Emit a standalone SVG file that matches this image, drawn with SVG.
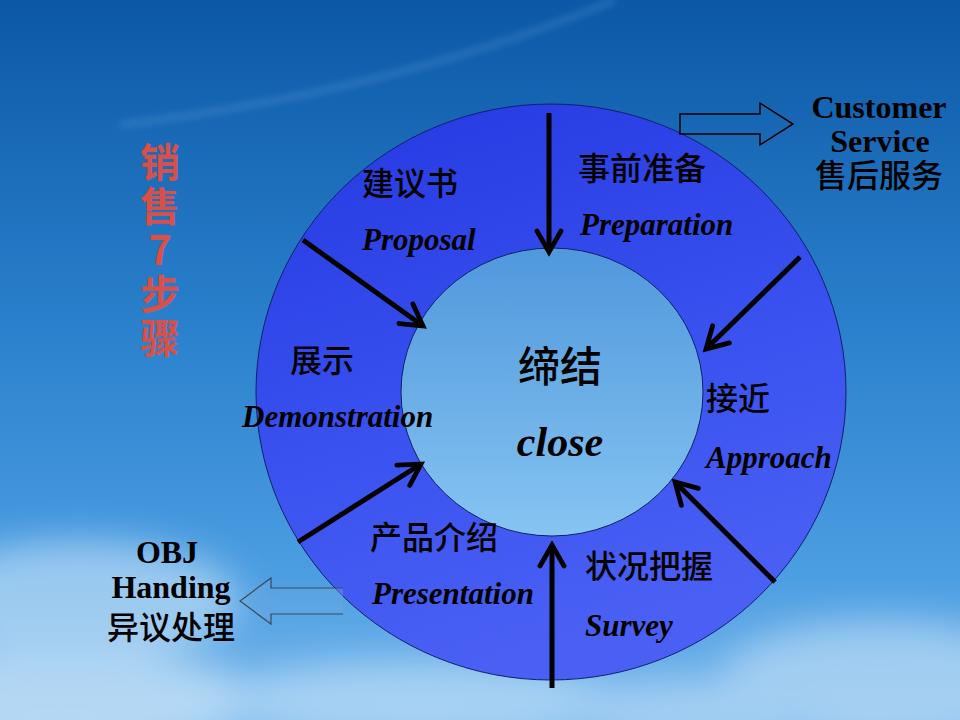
<svg xmlns="http://www.w3.org/2000/svg" width="960" height="720" viewBox="0 0 960 720">
<defs>
<linearGradient id="bg" x1="0" y1="0" x2="0" y2="1">
<stop offset="0" stop-color="#0c58a6"/>
<stop offset="0.45" stop-color="#2a80cc"/>
<stop offset="0.8" stop-color="#4c9ee2"/>
<stop offset="1" stop-color="#7ab8ec"/>
</linearGradient>
<linearGradient id="ring" x1="0" y1="0" x2="0.3" y2="1">
<stop offset="0" stop-color="#2438e0"/>
<stop offset="0.6" stop-color="#3a52f0"/>
<stop offset="1" stop-color="#4a60f4"/>
</linearGradient>
<linearGradient id="core" x1="0" y1="0" x2="0" y2="1">
<stop offset="0" stop-color="#4f98dc"/>
<stop offset="1" stop-color="#86c4f2"/>
</linearGradient>
<filter id="blur" x="-50%" y="-50%" width="200%" height="200%"><feGaussianBlur stdDeviation="18"/></filter>
<filter id="soft" x="-20%" y="-20%" width="140%" height="140%"><feGaussianBlur stdDeviation="3"/></filter>
<marker id="head" viewBox="0 0 20 20" refX="17" refY="10" markerWidth="6" markerHeight="6" orient="auto" markerUnits="strokeWidth">
<path d="M3,2 L17,10 L3,18" fill="none" stroke="#000" stroke-width="3.2" stroke-linecap="round" stroke-linejoin="miter"/>
</marker>
<style>
.cn{font-family:"Noto Sans CJK SC","Noto Sans",sans-serif;font-size:32px;font-weight:500;fill:#000;}
.en{font-family:"Liberation Serif","Times New Roman",serif;font-style:italic;font-weight:bold;font-size:31px;fill:#000;}
.lbl{font-family:"Liberation Serif","Times New Roman",serif;font-weight:bold;font-size:32px;fill:#000;text-anchor:middle;}
.lcn{font-family:"Noto Sans CJK SC",sans-serif;font-size:32px;font-weight:500;fill:#000;text-anchor:middle;}
.arr{stroke:#000;stroke-width:5;fill:none;marker-end:url(#head);}
.red{font-family:"Noto Sans CJK SC",sans-serif;font-weight:bold;font-size:40px;fill:#d8504a;writing-mode:vertical-rl;text-orientation:upright;letter-spacing:4px;}
</style>
</defs>
<rect width="960" height="720" fill="url(#bg)"/>
<g filter="url(#blur)" opacity="0.55">
<ellipse cx="80" cy="600" rx="160" ry="60" fill="#d8ecfa"/>
<ellipse cx="60" cy="700" rx="200" ry="50" fill="#e8f4fc"/>
<ellipse cx="420" cy="700" rx="200" ry="40" fill="#d0e8fa"/>
<ellipse cx="880" cy="680" rx="160" ry="60" fill="#cfe6f8"/>
<ellipse cx="700" cy="710" rx="140" ry="30" fill="#c8e2f8"/>
</g>
<path d="M120,125 Q400,90 615,0" stroke="#6aa6dc" stroke-width="8" fill="none" opacity="0.22" filter="url(#soft)"/>
<g id="title">
<text class="red" x="160" y="142">销售7步骤</text>
</g>
<g id="ring-node">
<ellipse cx="551" cy="392" rx="295" ry="288" fill="url(#ring)" stroke="#10206a" stroke-width="1"/>
</g>
<g id="close-node">
<ellipse cx="552" cy="392" rx="151" ry="144" fill="url(#core)" stroke="#10206a" stroke-width="1"/>
<text class="cn" x="560" y="382" style="font-size:42px" text-anchor="middle">缔结</text>
<text class="en" x="560" y="456" style="font-size:42px" text-anchor="middle">close</text>
</g>
<g id="preparation">
<text class="cn" x="578" y="180">事前准备</text>
<text class="en" x="580" y="235">Preparation</text>
</g>
<g id="proposal">
<text class="cn" x="362" y="195">建议书</text>
<text class="en" x="362" y="250">Proposal</text>
</g>
<g id="demonstration">
<text class="cn" x="290" y="372">展示</text>
<text class="en" x="242" y="427">Demonstration</text>
</g>
<g id="approach">
<text class="cn" x="706" y="410">接近</text>
<text class="en" x="706" y="468">Approach</text>
</g>
<g id="presentation">
<text class="cn" x="370" y="549">产品介绍</text>
<text class="en" x="372" y="604">Presentation</text>
</g>
<g id="survey">
<text class="cn" x="585" y="578">状况把握</text>
<text class="en" x="585" y="636">Survey</text>
</g>
<g id="customer-service">
<text class="lbl" x="879" y="118">Customer</text>
<text class="lbl" x="880" y="152">Service</text>
<text class="lcn" x="879" y="187">售后服务</text>
</g>
<g id="obj-handing">
<text class="lbl" x="167" y="563">OBJ</text>
<text class="lbl" x="171" y="598">Handing</text>
<text class="lcn" x="171" y="639">异议处理</text>
</g>
<g id="connectors">
<line class="arr" x1="549" y1="113" x2="549" y2="252"/>
<line class="arr" x1="303" y1="240" x2="423" y2="326"/>
<line class="arr" x1="800" y1="257" x2="706" y2="349"/>
<line class="arr" x1="775" y1="582" x2="675" y2="482"/>
<line class="arr" x1="552" y1="688" x2="552" y2="545"/>
<line class="arr" x1="298" y1="542" x2="421" y2="464"/>
<path d="M680,114 L760,114 L760,103 L793,124 L760,145 L760,134 L680,134 Z" fill="none" stroke="#000" stroke-width="1.5"/>
<path d="M343,588 L271,588 L271,578 L240,601 L271,624 L271,614 L343,614" fill="#6aa8e0" fill-opacity="0.4" stroke="#3a4a5a" stroke-width="1.2"/>
</g>
</svg>
